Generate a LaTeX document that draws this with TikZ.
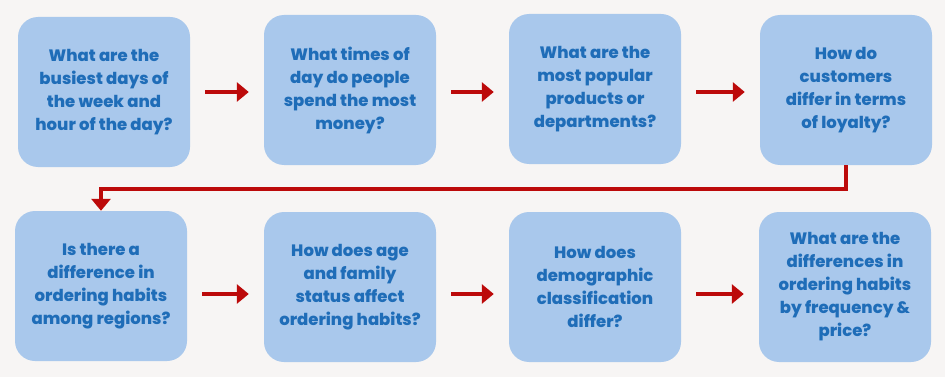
\documentclass[tikz,border=0pt]{standalone}
\usepackage{fontspec}
\setmainfont{Poppins}[BoldFont={* ExtraBold}]
\usetikzlibrary{arrows.meta}
\definecolor{bgcol}{HTML}{F7F5F4}
\definecolor{boxfill}{HTML}{A9C8EC}
\definecolor{boxtext}{HTML}{1F6DB8}
\definecolor{flowred}{HTML}{BC0A0A}
\tikzset{
  qbox/.style={fill=boxfill, rounded corners=20pt, minimum width=172pt, minimum height=150pt,
    text=boxtext, align=center, font=\bfseries\fontsize{16.5}{23}\selectfont, inner sep=0pt},
  flow/.style={draw=flowred, line width=4.5pt, -{Triangle[length=12pt,width=19pt]}},
}
\begin{document}
\begin{tikzpicture}[x=1pt,y=-1pt]
  \fill[bgcol] (0,0) rectangle (945,377);
  \useasboundingbox (0,0) rectangle (945,377);
  % first row
  \node[qbox] (q1) at (104,92) {What are the\\busiest days of\\the week and\\hour of the day?};
  \node[qbox] (q2) at (350,90) {What times of\\day do people\\spend the most\\money?};
  \node[qbox] (q3) at (595,89) {What are the\\most popular\\products or\\departments?};
  \node[qbox] (q4) at (846,90) {How do\\customers\\differ in terms\\of loyalty?};
  % second row
  \node[qbox] (q5) at (101,286) {Is there a\\difference in\\ordering habits\\among regions?};
  \node[qbox] (q6) at (350,287) {How does age\\and family\\status affect\\ordering habits?};
  \node[qbox] (q7) at (595,287) {How does\\demographic\\classification\\differ?};
  \node[qbox] (q8) at (845,287) {What are the\\differences in\\ordering habits\\by frequency \&\\price?};
  % arrows between neighbours, kept level on each row
  \coordinate (rowA) at (0,92);
  \coordinate (rowB) at (0,294);
  \foreach \a/\b in {q1/q2,q2/q3,q3/q4}
    \draw[flow] ([xshift=15pt]\a.east |- rowA) -- ([xshift=-15pt]\b.west |- rowA);
  \foreach \a/\b in {q5/q6,q6/q7,q7/q8}
    \draw[flow] ([xshift=15pt]\a.east |- rowB) -- ([xshift=-15pt]\b.west |- rowB);
  % wrap-around connector
  \coordinate (turn) at (0,189);
  \draw[flow, line width=4pt] (q4.south) -- (q4.south |- turn) -- (q5.north |- turn) -- (q5.north);
\end{tikzpicture}
\end{document}
